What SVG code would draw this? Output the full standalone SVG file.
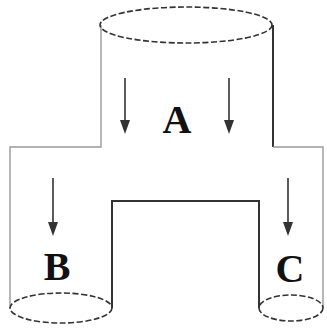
<svg xmlns="http://www.w3.org/2000/svg" width="327" height="329" viewBox="0 0 327 329">
<style>
.dash{fill:none;stroke:#333;stroke-width:1.6;stroke-dasharray:6,2.5}
.light{fill:none;stroke:#999;stroke-width:1.4}
.dark{fill:none;stroke:#333;stroke-width:2}
.arr{stroke:#333;stroke-width:1.6}
.lbl{font-family:"Liberation Serif",serif;font-weight:bold;font-size:40px;fill:#111;text-anchor:middle}
</style>
<defs>
<marker id="ah" markerWidth="10" markerHeight="12" refX="5" refY="11" orient="auto-start-reverse" markerUnits="userSpaceOnUse" viewBox="0 0 10 12">
<path d="M0,0 L10,0 L5,12 Z" fill="#333" transform="rotate(0)"/>
</marker>
</defs>
<g id="vessel">
<path class="light" d="M101,25 L101,147 L10,147 L10,308"/>
<path class="dark" d="M273,25 L273,147"/>
<path class="light" d="M273,147 L323,147 L323,308"/>
<path class="dark" d="M112,308 L112,201 L259,201 L259,308"/>
</g>
<g id="ellipseTop"><ellipse class="dash" cx="186" cy="25" rx="86" ry="18"/></g>
<g id="ellipseB"><ellipse class="dash" cx="61" cy="308" rx="51" ry="15"/></g>
<g id="ellipseC"><ellipse class="dash" cx="291" cy="308" rx="32" ry="13"/></g>
<g id="connectors">
<line class="arr" x1="125" y1="78" x2="125" y2="122"/>
<path d="M120,120 L130,120 L125,134 Z" fill="#333"/>
<line class="arr" x1="229" y1="78" x2="229" y2="122"/>
<path d="M224,120 L234,120 L229,134 Z" fill="#333"/>
<line class="arr" x1="53" y1="178" x2="53" y2="224"/>
<path d="M48,222 L58,222 L53,236 Z" fill="#333"/>
<line class="arr" x1="288" y1="178" x2="288" y2="224"/>
<path d="M283,222 L293,222 L288,236 Z" fill="#333"/>
</g>
<g id="nodeA"><text class="lbl" x="177" y="133">A</text></g>
<g id="nodeB"><text class="lbl" x="57" y="280">B</text></g>
<g id="nodeC"><text class="lbl" x="290" y="282">C</text></g>
</svg>
